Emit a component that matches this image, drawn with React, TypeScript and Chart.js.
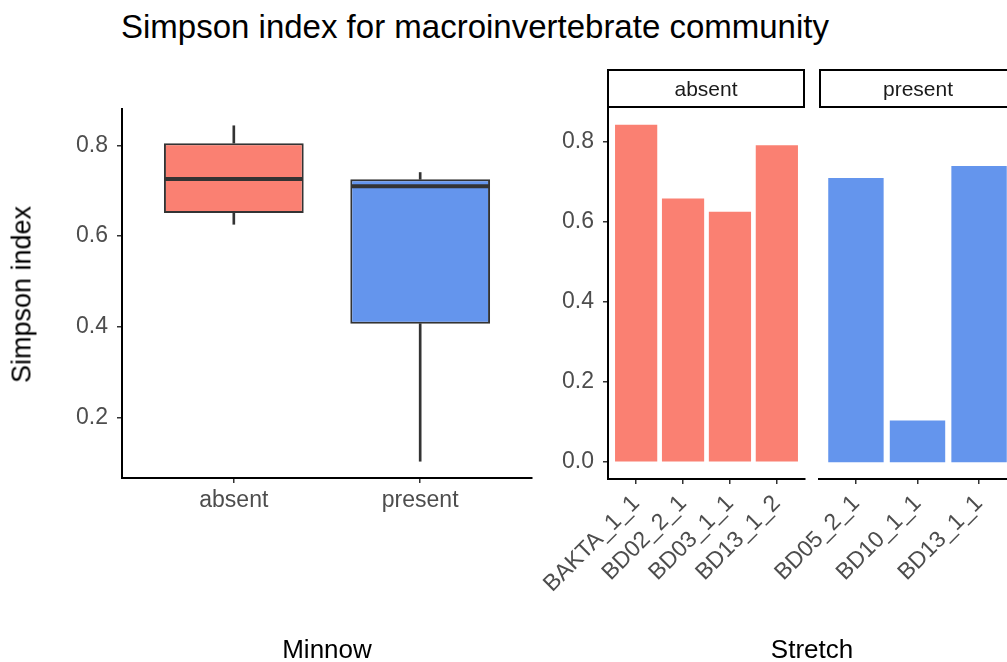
import React, { useEffect, useRef } from "react";
import { Chart, registerables } from "chart.js";

Chart.register(...registerables);

// ---- data ----
const minnowGroups = ["absent", "present"];
const groupColors = ["#FA8072", "#6495ED"];

const absentStretches = ["BAKTA_1_1", "BD02_2_1", "BD03_1_1", "BD13_1_2"];
const absentSimpson = [0.843, 0.659, 0.626, 0.792];

const presentStretches = ["BD05_2_1", "BD10_1_1", "BD13_1_1"];
const presentSimpson = [0.71, 0.104, 0.74];

const boxTicks = [0.2, 0.4, 0.6, 0.8];
const barTicks = [0, 0.2, 0.4, 0.6, 0.8];

// ---- helpers ----
const FONT = "'Liberation Sans', Arial, Helvetica, sans-serif";
const TICK_COLOR = "#4D4D4D";
const LINE_COLOR = "#333333";

function quantile(sorted: number[], p: number) {
  const h = (sorted.length - 1) * p;
  const lo = Math.floor(h);
  const hi = Math.ceil(h);
  return sorted[lo] + (h - lo) * (sorted[hi] - sorted[lo]);
}

function boxStats(values: number[]) {
  const s = [...values].sort((a, b) => a - b);
  const q1 = quantile(s, 0.25);
  const median = quantile(s, 0.5);
  const q3 = quantile(s, 0.75);
  const iqr = q3 - q1;
  const inside = s.filter((v) => v >= q1 - 1.5 * iqr && v <= q3 + 1.5 * iqr);
  return { q1, median, q3, lo: inside[0], hi: inside[inside.length - 1] };
}

const groupValues = [absentSimpson, presentSimpson];
const stats = groupValues.map(boxStats);

function expanded(min: number, max: number, mult = 0.05) {
  const pad = (max - min) * mult;
  return { min: min - pad, max: max + pad };
}

const tickGrid = {
  display: true,
  drawOnChartArea: false,
  drawTicks: true,
  offset: false,
  tickLength: 5,
  color: LINE_COLOR,
  lineWidth: 1.5,
};
const axisBorder = { display: true, color: "#000000", width: 2 };

const medianPlugin = {
  id: "medianLines",
  afterDatasetsDraw(chart: any) {
    const meta = chart.getDatasetMeta(0);
    const y = chart.scales.y;
    const ctx = chart.ctx;
    ctx.save();
    ctx.strokeStyle = LINE_COLOR;
    ctx.lineWidth = 4;
    meta.data.forEach((bar: any, i: number) => {
      const { x, width } = bar.getProps(["x", "width"], true);
      const py = y.getPixelForValue(stats[i].median);
      ctx.beginPath();
      ctx.moveTo(x - width / 2 + 1, py);
      ctx.lineTo(x + width / 2 - 1, py);
      ctx.stroke();
    });
    ctx.restore();
  },
};

function indexAxis(labels: string[], rotate: boolean, height: number) {
  return {
    type: "linear" as const,
    offset: false,
    min: -0.6,
    max: labels.length - 1 + 0.6,
    afterBuildTicks: (s: any) => {
      s.ticks = labels.map((_, i) => ({ value: i }));
    },
    afterFit: (s: any) => {
      s.height = height;
    },
    ticks: {
      autoSkip: false,
      minRotation: rotate ? 45 : 0,
      maxRotation: rotate ? 45 : 0,
      padding: rotate ? 6 : 4,
      color: TICK_COLOR,
      font: { family: FONT, size: 23 },
      callback: (v: any) => labels[Math.round(Number(v))] ?? "",
    },
    grid: tickGrid,
    border: axisBorder,
  };
}

function valueAxis(
  range: { min: number; max: number },
  ticks: number[],
  width: number,
  show: boolean
) {
  return {
    type: "linear" as const,
    display: show,
    min: range.min,
    max: range.max,
    afterBuildTicks: (s: any) => {
      s.ticks = ticks.map((v) => ({ value: v }));
    },
    afterFit: (s: any) => {
      s.width = width;
    },
    ticks: {
      padding: 9,
      color: TICK_COLOR,
      font: { family: FONT, size: 23 },
      callback: (v: any) => Number(v).toFixed(1),
    },
    grid: tickGrid,
    border: axisBorder,
  };
}

const baseOptions = {
  responsive: false,
  animation: false as const,
  plugins: { legend: { display: false }, tooltip: { enabled: false } },
};

function BoxPanel() {
  const ref = useRef<HTMLCanvasElement>(null);
  useEffect(() => {
    const all = groupValues.flat();
    const yRange = expanded(Math.min(...all), Math.max(...all));
    const chart = new Chart(ref.current!, {
      type: "bar",
      data: {
        datasets: [
          {
            data: stats.map((s, i) => ({ x: i, y: [s.q1, s.q3] })) as any,
            backgroundColor: groupColors,
            borderColor: LINE_COLOR,
            borderWidth: 2,
            borderSkipped: false,
            barPercentage: 0.75,
            categoryPercentage: 1,
            grouped: false,
          },
          {
            data: stats.map((s, i) => ({ x: i, y: [s.q3, s.hi] })) as any,
            backgroundColor: LINE_COLOR,
            barThickness: 2,
            grouped: false,
          },
          {
            data: stats.map((s, i) => ({ x: i, y: [s.lo, s.q1] })) as any,
            backgroundColor: LINE_COLOR,
            barThickness: 2,
            grouped: false,
          },
        ],
      },
      options: {
        ...baseOptions,
        layout: { padding: { top: 109, right: 13, bottom: 0, left: 0 } },
        scales: {
          x: indexAxis(minnowGroups, false, 184),
          y: valueAxis(yRange, boxTicks, 122, true),
        },
      } as any,
      plugins: [medianPlugin],
    });
    return () => chart.destroy();
  }, []);
  return (
    <canvas
      ref={ref}
      width={545}
      height={662}
      style={{ position: "absolute", left: 0, top: 0 }}
    />
  );
}

function BarPanel(props: {
  labels: string[];
  values: number[];
  color: string;
  left: number;
  yWidth: number;
  showY: boolean;
}) {
  const ref = useRef<HTMLCanvasElement>(null);
  const canvasWidth = props.yWidth + 197 + 14;
  useEffect(() => {
    const all = [...absentSimpson, ...presentSimpson];
    const top = Math.max(...all);
    const pad = top * 0.05;
    const chart = new Chart(ref.current!, {
      type: "bar",
      data: {
        datasets: [
          {
            data: props.values.map((v, i) => ({ x: i, y: v })) as any,
            backgroundColor: props.color,
            barPercentage: 0.9,
            categoryPercentage: 1,
            grouped: false,
          },
        ],
      },
      options: {
        ...baseOptions,
        layout: { padding: { top: 108, right: 14, bottom: 0, left: 0 } },
        scales: {
          x: indexAxis(props.labels, true, 183),
          y: valueAxis({ min: -pad, max: top + pad }, barTicks, props.yWidth, props.showY),
        },
      } as any,
    });
    return () => chart.destroy();
  }, []);
  return (
    <canvas
      ref={ref}
      width={canvasWidth}
      height={662}
      style={{ position: "absolute", left: props.left, top: 0 }}
    />
  );
}

function Strip(props: { text: string; left: number }) {
  return (
    <div
      style={{
        position: "absolute",
        left: props.left,
        top: 69,
        width: 198,
        height: 39,
        boxSizing: "border-box",
        border: "2px solid #000",
        display: "flex",
        alignItems: "center",
        justifyContent: "center",
        fontSize: 21,
        color: "#1A1A1A",
      }}
    >
      {props.text}
    </div>
  );
}

function Label(props: { text: string; cx: number; cy: number; size: number; rotate?: boolean }) {
  return (
    <div
      style={{
        position: "absolute",
        left: props.cx - 200,
        top: props.cy - props.size / 2,
        width: 400,
        textAlign: "center",
        fontSize: props.size,
        lineHeight: `${props.size}px`,
        color: "#000",
        whiteSpace: "nowrap",
        transform: props.rotate ? "rotate(-90deg)" : undefined,
      }}
    >
      {props.text}
    </div>
  );
}

export default function App() {
  return (
    <div
      style={{
        position: "fixed",
        left: 0,
        top: 0,
        width: 1007,
        height: 662,
        overflow: "hidden",
        background: "#fff",
        fontFamily: FONT,
      }}
    >
      <div
        style={{
          position: "absolute",
          left: 121,
          top: 10,
          fontSize: 33,
          lineHeight: "33px",
          color: "#000",
          whiteSpace: "nowrap",
        }}
      >
        Simpson index for macroinvertebrate community
      </div>
      <BoxPanel />
      <BarPanel
        labels={absentStretches}
        values={absentSimpson}
        color={groupColors[0]}
        left={530}
        yWidth={78}
        showY={true}
      />
      <BarPanel
        labels={presentStretches}
        values={presentSimpson}
        color={groupColors[1]}
        left={741}
        yWidth={78}
        showY={false}
      />
      <Strip text="absent" left={607} />
      <Strip text="present" left={819} />
      <Label text="Simpson index" cx={22} cy={294} size={27} rotate />
      <Label text="Minnow" cx={327} cy={649} size={26} />
      <Label text="Stretch" cx={812} cy={649} size={26} />
    </div>
  );
}
